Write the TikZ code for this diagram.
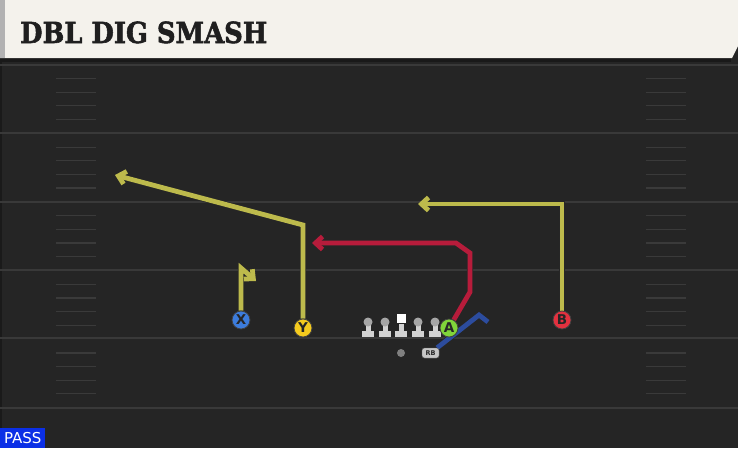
\documentclass[tikz,border=0pt]{standalone}
\usepackage{fontspec}
\setmainfont{DejaVu Sans}
\newfontfamily\titlefont{DejaVu Serif}[BoldFeatures={FakeBold=2}]
\usetikzlibrary{arrows.meta}

\definecolor{field}{HTML}{252525}
\definecolor{yardline}{HTML}{393939}
\definecolor{hashline}{HTML}{3A3A3A}
\definecolor{header}{HTML}{F4F2EC}
\definecolor{routeyel}{HTML}{BDBA4C}
\definecolor{routered}{HTML}{B71C3B}
\definecolor{routeblue}{HTML}{2C4C9E}
\definecolor{pyel}{HTML}{F5CB1E}
\definecolor{pblue}{HTML}{3C7CDC}
\definecolor{pred}{HTML}{E2313F}
\definecolor{pgreen}{HTML}{80D43A}
\definecolor{linegrey}{HTML}{D2D2D2}
\definecolor{passblue}{HTML}{0B2FE6}

\pgfdeclarelayer{bg}
\pgfdeclarelayer{routes}
\pgfsetlayers{bg,routes,main}

\tikzset{
    player/.style={circle, draw=black!75, line width=0.8pt, minimum size=18pt,
        inner sep=0pt, text=black!85, font=\bfseries\fontsize{13.5}{13.5}\selectfont},
    route/.style={line width=4.8pt, line join=miter, line cap=butt,
        preaction={draw=black!85, line width=6.2pt}},
    routetip/.style={-{Straight Barb[length=7pt, width=13pt]}},
}

\begin{document}
\begin{tikzpicture}[x=1pt, y=-1pt]
\useasboundingbox (0,0) rectangle (738,448);

\begin{pgfonlayer}{bg}
    % field
    \fill[field] (0,40) rectangle (738,448);
    \fill[black!30!field] (0,62) rectangle (2,448);
    \foreach \yl in {65,133,202,270,338,408}
        \draw[yardline, line width=2pt] (0,\yl) -- (738,\yl);
    \foreach \yl in {65,133.6,202.2,270.8,339.4}
        \foreach \k in {1,2,3,4} {
            \draw[hashline, line width=1.2pt] (56,\yl+\k*13.6) -- (96,\yl+\k*13.6);
            \draw[hashline, line width=1.2pt] (646,\yl+\k*13.6) -- (686,\yl+\k*13.6);
        }
    % header
    \fill[black!90] (0,57) rectangle (731,62);
    \fill[header] (0,0) -- (738,0) -- (738,46) -- (732,58) -- (0,58) -- cycle;
    \fill[black!30] (0,0) rectangle (5,58);
\end{pgfonlayer}

\node[anchor=base west, inner sep=0pt, text=black!88, xscale=0.89] (title) at (20,43)
    {\titlefont\bfseries\fontsize{29}{29}\selectfont DBL DIG SMASH};

% line
\foreach \lx in {368,385,418,435} {
    \fill[linegrey] (\lx-6,331) rectangle (\lx+6,337);
    \fill[linegrey] (\lx-2.5,325) rectangle (\lx+2.5,331);
    \fill[black!35] (\lx,322) circle (4.5);
}
\fill[linegrey] (395,331) rectangle (407,337);
\fill[linegrey] (398.5,324) rectangle (403.5,331);
\fill[white] (396.5,314) rectangle (405.5,323);
\node[circle, fill=black!50, minimum size=8pt, inner sep=0pt] (QB) at (401,353) {};
\node[rounded corners=2.5pt, fill=black!22, draw=black!60, minimum width=17pt,
    minimum height=10pt, inner sep=0pt, text=black!85,
    font=\bfseries\fontsize{6.5}{6.5}\selectfont] (RB) at (430.5,353) {RB};

% receivers
\node[player, fill=pblue] (X) at (241,320) {X};
\node[player, fill=pyel] (Y) at (303,328) {Y};
\node[player, fill=pgreen] (A) at (449,328) {A};
\node[player, fill=pred] (B) at (562,320) {B};

\coordinate (Xend) at (256,281);
\coordinate (Yend) at (115,175);
\coordinate (Aend) at (312,243);
\coordinate (Bend) at (418,204);
\coordinate (RBend) at (488,322);

\begin{pgfonlayer}{routes}
    \draw[route, routetip, routeyel] (X) -- (241,268) -- (Xend);
    \draw[route, routetip, routeyel] (Y) -- (303,225) -- (Yend);
    \draw[route, routetip, routeyel] (B) -- (562,204) -- (Bend);
    \draw[route, routetip, routered] (A) -- (470,292) -- (470,253) -- (456,243) -- (Aend);
    \draw[route, routeblue] (RB) -- (479,315) -- (RBend);
\end{pgfonlayer}

% play type
\node[fill=passblue, text=white, anchor=south west, minimum width=45pt,
    minimum height=20pt, inner sep=0pt, font=\fontsize{15}{15}\selectfont]
    (pass) at (0,448) {PASS};

\end{tikzpicture}
\end{document}
